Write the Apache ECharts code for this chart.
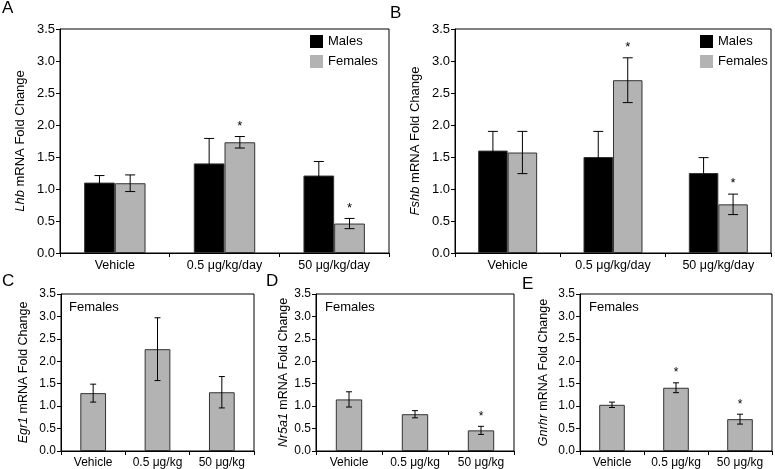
<!DOCTYPE html>
<html><head><meta charset="utf-8">
<script src="https://cdn.jsdelivr.net/npm/echarts@6/dist/echarts.min.js"></script>
<style>html,body{margin:0;padding:0;background:#fff}#c{width:775px;height:469px}</style>
</head><body><div id="c"></div>
<script>
// ---- data ----
var catsTop = ['Vehicle', '0.5 μg/kg/day', '50 μg/kg/day'];
var catsBottom = ['Vehicle', '0.5 μg/kg', '50 μg/kg'];
var yTicks = [0, 0.5, 1.0, 1.5, 2.0, 2.5, 3.0, 3.5];

var lhbMales = [1.10, 1.40, 1.21];
var lhbMalesErr = [0.11, 0.39, 0.22];
var lhbFemales = [1.09, 1.73, 0.46];
var lhbFemalesErr = [0.13, 0.09, 0.08];
var lhbFemalesSig = [false, true, true];

var fshbMales = [1.60, 1.50, 1.25];
var fshbMalesErr = [0.30, 0.40, 0.24];
var fshbFemales = [1.57, 2.70, 0.76];
var fshbFemalesErr = [0.33, 0.35, 0.16];
var fshbFemalesSig = [false, true, true];

var egr1 = [1.29, 2.27, 1.31];
var egr1Err = [0.20, 0.70, 0.35];
var egr1Sig = [false, false, false];

var nr5a1 = [1.15, 0.82, 0.46];
var nr5a1Err = [0.17, 0.08, 0.09];
var nr5a1Sig = [false, false, true];

var gnrhr = [1.03, 1.41, 0.71];
var gnrhrErr = [0.06, 0.11, 0.11];
var gnrhrSig = [false, true, true];

// ---- chart ----
var FONT = 'Liberation Sans, Arial, Helvetica, sans-serif';
var BLACK = '#000000', GRAY = '#b3b3b3', EDGE = '#333333';
var chart = echarts.init(document.getElementById('c'), null, {renderer: 'canvas'});

var grids = [
  {left: 60, top: 29, width: 329, height: 224},
  {left: 455, top: 29, width: 316, height: 224},
  {left: 61, top: 294, width: 193, height: 159},
  {left: 316, top: 294, width: 198, height: 159},
  {left: 580, top: 294, width: 192, height: 159}
];
grids.forEach(function (g) { g.show = true; g.borderColor = '#000'; g.borderWidth = 1; g.backgroundColor = 'transparent'; });

function xAxis(i, cats, fs) {
  return {
    type: 'category', gridIndex: i, data: cats,
    axisLine: {lineStyle: {color: '#000', width: 1}},
    axisTick: {show: true, length: 4, lineStyle: {color: '#000'}},
    axisLabel: {color: '#000', fontFamily: FONT, fontSize: fs, margin: 6, interval: 0}
  };
}
function yAxis(i, gene, gap, fs, nfs) {
  return {
    type: 'value', gridIndex: i, min: 0, max: 3.5, interval: 0.5,
    name: '{it|' + gene + '} mRNA Fold Change',
    nameLocation: 'middle', nameGap: gap, nameRotate: 90,
    nameTextStyle: {color: '#000', fontFamily: FONT, fontSize: nfs,
      rich: {it: {fontStyle: 'italic', fontFamily: FONT, fontSize: nfs, color: '#000'}}},
    axisLine: {show: true, lineStyle: {color: '#000', width: 1}},
    axisTick: {show: true, length: 4, lineStyle: {color: '#000'}},
    splitLine: {show: false},
    axisLabel: {color: '#000', fontFamily: FONT, fontSize: fs, margin: 5,
      formatter: function (v) { return v.toFixed(1); }}
  };
}

function barSeries(name, idx, data, color, gap, width) {
  var s = {
    name: name, type: 'bar', xAxisIndex: idx, yAxisIndex: idx, data: data,
    itemStyle: {color: color, borderColor: EDGE, borderWidth: 1},
    barGap: '0%', barCategoryGap: gap, z: 2, animation: false
  };
  if (width) s.barWidth = width;
  return s;
}

// error bar + significance star, using offsets of bars within category
function errSeries(idx, vals, errs, sig, offset, cap, starSize) {
  var d = vals.map(function (v, i) { return [i, v, errs[i], sig[i] ? 1 : 0]; });
  return {
    type: 'custom', xAxisIndex: idx, yAxisIndex: idx, data: d, z: 5, animation: false,
    renderItem: function (params, api) {
      var c = api.value(0), v = api.value(1), e = api.value(2), s = api.value(3);
      var bw = api.size([1, 0])[0];
      var top = api.coord([c, v + e]);
      var bot = api.coord([c, v - e]);
      var x = top[0] + offset * bw;
      var st = {stroke: '#000', lineWidth: 1};
      var ch = [
        {type: 'line', shape: {x1: x, y1: top[1], x2: x, y2: bot[1]}, style: st},
        {type: 'line', shape: {x1: x - cap, y1: top[1], x2: x + cap, y2: top[1]}, style: st},
        {type: 'line', shape: {x1: x - cap, y1: bot[1], x2: x + cap, y2: bot[1]}, style: st}
      ];
      if (s) {
        ch.push({type: 'text', style: {text: '*', x: x, y: top[1] - 4, align: 'center', verticalAlign: 'bottom',
          font: starSize + 'px ' + FONT, fill: '#000'}});
      }
      return {type: 'group', children: ch};
    }
  };
}

var series = [
  barSeries('Males', 0, lhbMales, BLACK, '44%'),
  barSeries('Females', 0, lhbFemales, GRAY, '44%'),
  errSeries(0, lhbMales, lhbMalesErr, [false, false, false], -0.14, 5, 13),
  errSeries(0, lhbFemales, lhbFemalesErr, lhbFemalesSig, 0.14, 5, 13),
  barSeries('Males', 1, fshbMales, BLACK, '44%'),
  barSeries('Females', 1, fshbFemales, GRAY, '44%'),
  errSeries(1, fshbMales, fshbMalesErr, [false, false, false], -0.14, 5, 13),
  errSeries(1, fshbFemales, fshbFemalesErr, fshbFemalesSig, 0.14, 5, 13),
  barSeries('Females', 2, egr1, GRAY, '60%'),
  errSeries(2, egr1, egr1Err, egr1Sig, 0, 3, 12),
  barSeries('Females', 3, nr5a1, GRAY, '60%'),
  errSeries(3, nr5a1, nr5a1Err, nr5a1Sig, 0, 3, 12),
  barSeries('Females', 4, gnrhr, GRAY, '60%'),
  errSeries(4, gnrhr, gnrhrErr, gnrhrSig, 0, 3, 12)
];

function legend(left) {
  return {
    data: ['Males', 'Females'], orient: 'vertical', left: left, top: 35, padding: 0,
    icon: 'rect', itemWidth: 13, itemHeight: 13, itemGap: 7,
    selectedMode: false,
    textStyle: {color: '#000', fontFamily: FONT, fontSize: 13},
    itemStyle: {borderWidth: 0}
  };
}

function txt(x, y, t, fs) {
  return {type: 'text', left: x, top: y, style: {text: t, font: fs + 'px ' + FONT, fill: '#000'}, silent: true};
}

chart.setOption({
  animation: false,
  color: [BLACK, GRAY],
  grid: grids,
  xAxis: [xAxis(0, catsTop, 12.5), xAxis(1, catsTop, 12.5), xAxis(2, catsBottom, 12), xAxis(3, catsBottom, 12), xAxis(4, catsBottom, 12)],
  yAxis: [yAxis(0, 'Lhb', 33, 13, 13), yAxis(1, 'Fshb', 33, 13, 13), yAxis(2, 'Egr1', 31, 12, 12.5), yAxis(3, 'Nr5a1', 24, 12, 12.5), yAxis(4, 'Gnrhr', 30, 12, 12.5)],
  legend: [legend(310), legend(700)],
  series: series,
  graphic: [
    txt(2, 0, 'A', 17), txt(390, 5, 'B', 17), txt(2, 273, 'C', 17), txt(266, 273, 'D', 17), txt(522, 276, 'E', 17),
    txt(69, 301, 'Females', 13), txt(325, 301, 'Females', 13), txt(589, 301, 'Females', 13)
  ]
});
</script></body></html>
